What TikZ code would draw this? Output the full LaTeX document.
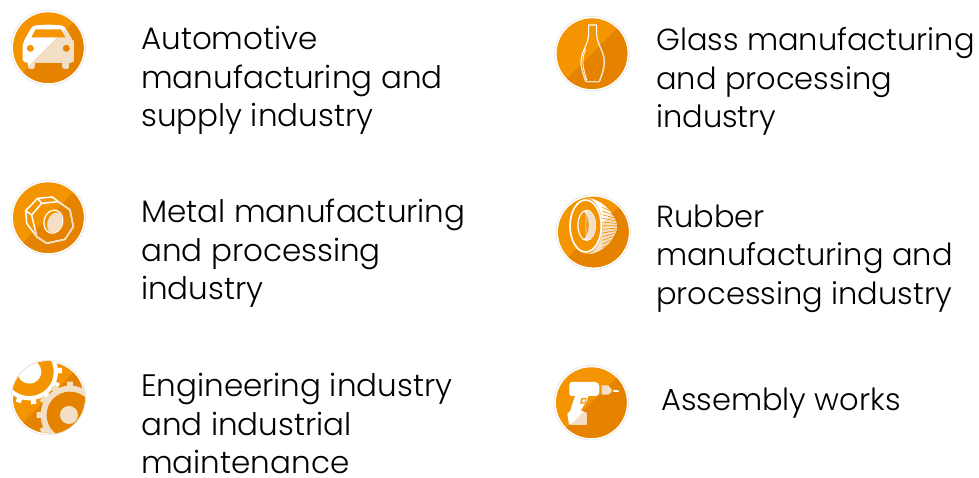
\documentclass[tikz,border=0pt]{standalone}
\usepackage{fontspec}
\setmainfont{Poppins}[UprightFont=* Light]
\definecolor{oLight}{HTML}{F39400}
\definecolor{oDark}{HTML}{E58300}
\definecolor{beige}{HTML}{F2DFC6}
\tikzset{
  label text/.style={anchor=north west,inner sep=0pt,align=left,text=black,font=\fontsize{31}{38.5}\selectfont},
  label right/.style={label text,font=\fontsize{30.5}{38.5}\selectfont},
  icon/.style={x=0.3333pt,y=-0.3333pt},
}
\newcommand{\discbase}[2]{%
  \fill[white] (#1,#2) circle[radius=112];
  \draw[black!18,line width=0.3pt] (#1,#2) circle[radius=112];
  \fill[oLight] (#1,#2) circle[radius=106];
  \begin{scope}
    \clip (#1,#2) circle[radius=106];
    \fill[oDark] (#1-150,#2+150) -- (#1+150,#2-150) -- (#1+250,#2+250) -- cycle;
  \end{scope}}
\newcommand{\halfclip}[2]{\clip (#1-150,#2+150) -- (#1+150,#2-150) -- (#1+250,#2+250) -- cycle;}
\begin{document}
\begin{tikzpicture}[x=1pt,y=-1pt]
\useasboundingbox (0,0) rectangle (979,478);
\fill[white] (0,0) rectangle (979,478);

\node[label text] (t1) at (141,26) {Automotive\\manufacturing and\\supply industry};
\node[label text] (t2) at (141,199) {Metal manufacturing\\and processing\\industry};
\node[label text,text depth=0pt] (t3) at (141,373) {Engineering industry\\and industrial\\maintenance};
\node[label right] (t4) at (656,27.5) {Glass manufacturing\\and processing\\industry};
\node[label right] (t5) at (656,204.5) {Rubber\\manufacturing and\\processing industry};
\node[label right] (t6) at (661,387.5) {Assembly works};

% car
\begin{scope}[shift={(0,0)},icon]
\discbase{145}{143}
\def\car{(108,76) to[out=5,in=175] (182,76) to[out=-5,in=120] (200,90) -- (218,122) to[out=60,in=90] (222,135) -- (222,180) to[out=-90,in=0] (210,188) -- (207,188) -- (207,200) to[out=-90,in=0] (200,206) -- (194,206) to[out=180,in=-90] (187,200) -- (187,188) -- (104,188) -- (104,200) to[out=-90,in=0] (97,206) -- (91,206) to[out=180,in=-90] (84,200) -- (84,188) -- (80,188) to[out=180,in=-90] (68,178) -- (68,135) to[out=90,in=-60] (72,122) -- (90,90) to[out=60,in=185] cycle}
\fill[white] \car;
\begin{scope}\clip \car; \halfclip{145}{138} \fill[beige] (0,0) rectangle (300,300);\end{scope}
\fill[oLight] (107,88) -- (183,88) -- (196,112) -- (94,112) -- cycle;
\fill[oLight] (91,145) circle[radius=10.5];
\fill[oDark] (199,145) circle[radius=10.5];
\end{scope}

% nut
\begin{scope}[shift={(0,170)},icon]
\discbase{145}{143}
\def\nutlines{(77,122) -- (113,85) -- (157,81) -- (175,95) -- (210,120) -- (220,170) -- (195,208) -- (140,220) -- (110,200) -- (80,160) -- cycle
  (77,122) -- (95,135) -- (110,200)
  (95,135) -- (125,100) -- (175,95)
  (113,85) -- (125,100)}
\draw[white,line width=1.5pt,line join=round] \nutlines;
\begin{scope}[rotate around={-15:(160,155)}]
\fill[white] (160,155) ellipse[x radius=30,y radius=37];
\fill[oLight] (160,155) ellipse[x radius=26,y radius=33];
\begin{scope}
\clip (160,155) ellipse[x radius=26,y radius=33];
\fill[beige] (170,158) ellipse[x radius=27,y radius=34];
\end{scope}
\end{scope}
\begin{scope}\halfclip{145}{143}
\draw[beige,line width=1.5pt,line join=round] \nutlines;
\end{scope}
\end{scope}

% gears
\begin{scope}[shift={(0,350)},icon]
\discbase{145}{143}
\begin{scope}
\clip (145,143) circle[radius=110];
\foreach \a in {-30,-2,26,54,82,110,138} {
  \fill[white] (88,65) ++(\a:80) -- ++(\a+90:8) -- ++(\a:18) -- ++(\a-90:16) -- ++(\a+180:18) -- cycle;
}
\fill[white] (88,65) circle[radius=86];
\fill[oLight] (88,65) circle[radius=73];
\fill[white] (88,65) circle[radius=36];
\foreach \a in {0,30,...,330} {
  \fill[beige] (210,195) ++(\a:80) -- ++(\a+90:9) -- ++(\a:20) -- ++(\a-90:18) -- ++(\a+180:20) -- cycle;
}
\fill[beige] (210,195) circle[radius=88];
\fill[oDark] (210,195) circle[radius=70];
\fill[beige] (207,195) circle[radius=27];
\end{scope}
\end{scope}

% vase
\begin{scope}[shift={(545,5)},icon]
\discbase{141}{146}
\def\vase{(131,60) -- (155,60) -- (155,88) .. controls (156,118) and (178,140) .. (178,170) .. controls (178,195) and (168,215) .. (163,230) -- (123,230) .. controls (118,215) and (108,195) .. (108,170) .. controls (108,140) and (130,118) .. (131,88) -- cycle}
\draw[white,line width=1.1pt,line join=round] \vase;
\draw[white,line width=0.8pt] (122,132) .. controls (116,145) and (114,160) .. (114,172) .. controls (114,195) and (122,212) .. (126,226);
\begin{scope}\halfclip{141}{146}\draw[beige,line width=1.1pt,line join=round] \vase;\end{scope}
\end{scope}

% tyre
\begin{scope}[shift={(545,182)},icon]
\discbase{145}{150}
\begin{scope}
\path[clip] (122,48) .. controls (150,48) and (180,65) .. (198,92) .. controls (210,110) and (216,122) .. (216,134) .. controls (216,146) and (210,158) .. (198,176) .. controls (180,200) and (150,218) .. (122,216) -- cycle;
\fill[white] (100,40) rectangle (222,220);
\begin{scope}\halfclip{145}{150}\fill[beige] (100,40) rectangle (222,220);\end{scope}
\foreach \y in {54,65,...,219} {
  \draw[oLight,line width=0.7pt] (172,\y) -- (222,{\y+(132-\y)*0.4});
}
\end{scope}
\fill[oLight] (122,132) ellipse[x radius=50,y radius=84];
\draw[white,line width=1.7pt] (122,132) ellipse[x radius=47,y radius=78];
\fill[white] (125,130) ellipse[x radius=28,y radius=47];
\fill[beige] (128,130) ellipse[x radius=24,y radius=43];
\begin{scope}
\clip (125,130) ellipse[x radius=24,y radius=43];
\fill[oLight] (105,130) ellipse[x radius=26,y radius=46];
\end{scope}
\draw[white,line width=0.6pt] (125,88) .. controls (122,110) and (122,150) .. (125,172);
\end{scope}

% drill
\begin{scope}[shift={(545,353)},icon]
\discbase{139}{149}
\def\drill{(82,87) -- (150,87) to[out=0,in=90] (163,100) -- (163,118) to[out=-90,in=0] (152,129) -- (130,129) -- (125,145) -- (107,172) -- (125,180) -- (125,215) -- (72,215) -- (67,182) -- (75,175) -- (90,129) -- (80,129) to[out=180,in=-90] (73,122) -- (73,95) to[out=90,in=180] cycle}
\fill[white] \drill;
\begin{scope}\clip \drill; \halfclip{130}{162} \fill[beige] (0,0) rectangle (300,300);\end{scope}
\fill[oLight] (110,135) -- (125,135) -- (120,152) -- (105,152) -- cycle;
\fill[white] (114,139) -- (121,139) -- (118,148) -- (111,148) -- cycle;
\fill[beige] (170,97) -- (190,97) -- (200,109) -- (200,117) -- (190,125) -- (170,125) -- cycle;
\fill[white] (205,110) -- (223,113) -- (223,116) -- (205,117) -- cycle;
\end{scope}
\end{tikzpicture}
\end{document}
